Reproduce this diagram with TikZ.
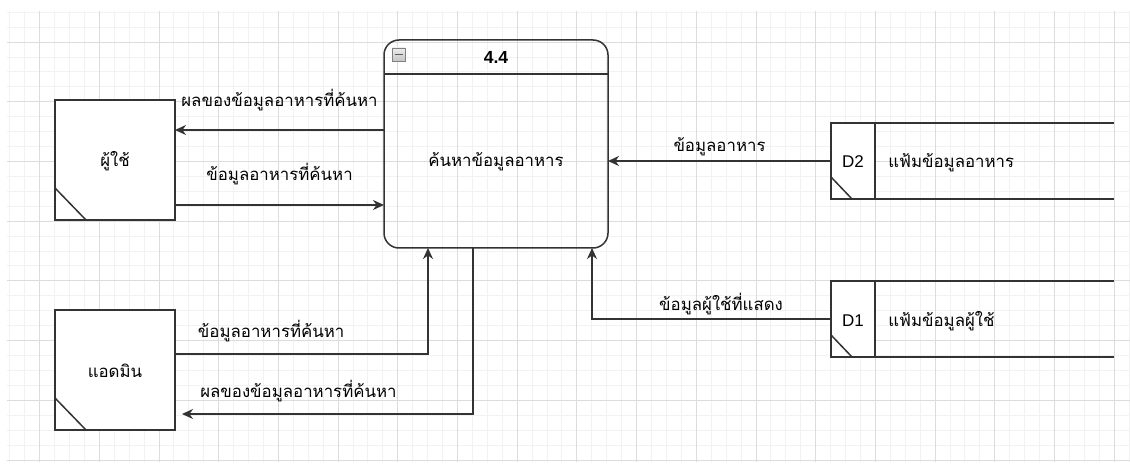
\documentclass[tikz,border=0pt]{standalone}
\usepackage{fontspec}
\setmainfont{Liberation Sans}
\newfontfamily\thaifont[Script=Thai]{Loma}
\usetikzlibrary{arrows.meta,positioning}
\definecolor{gridminor}{HTML}{F2F2F2}
\definecolor{gridmajor}{HTML}{DCDCDC}
\definecolor{boxgray}{HTML}{333333}

\begin{document}
\begin{tikzpicture}
[x=1pt, y=-1pt, >={Stealth[length=11pt,width=10pt,inset=3.5pt]},
every node/.style={font=\thaifont\fontsize{16.8}{20}\selectfont, outer sep=0pt},
entity/.style={draw=boxgray, line width=1.8pt, fill=white, minimum width=120pt,
  minimum height=120pt, text height=14pt, text depth=0pt},
process/.style={draw=boxgray, line width=1.5pt, rounded corners=15pt,
  minimum width=224pt, minimum height=208pt},
storeid/.style={draw=boxgray, line width=1.5pt, fill=white, minimum width=44pt,
  minimum height=76pt, font=\normalfont\fontsize{17}{20}\selectfont,
  text height=14pt, text depth=0pt},
boxline/.style={draw=boxgray, line width=1.5pt},
flow/.style={->, draw=boxgray, line width=1.4pt},
flowlabel/.style={anchor=base, inner sep=0pt}
]
  % background grid
  \fill[white] (0,0) rectangle (1130,465);
  \begin{scope}
    \clip (7,11) rectangle (1130,462);
    \foreach \i in {-2,...,73}
      \draw[gridminor, line width=0.8pt] ({39.5+14.925*\i},11) -- ({39.5+14.925*\i},462);
    \foreach \i in {-2,...,28}
      \draw[gridminor, line width=0.8pt] (7,{42+14.925*\i}) -- (1130,{42+14.925*\i});
    \foreach \i in {0,...,18}
      \draw[gridmajor, line width=0.8pt] ({39.5+59.7*\i},11) -- ({39.5+59.7*\i},462);
    \foreach \i in {-1,...,7}
      \draw[gridmajor, line width=0.8pt] (7,{42+59.7*\i}) -- (1130,{42+59.7*\i});
  \end{scope}

  % external entities
  \node[entity] (user)  at (115,160) {ผู้ใช้};
  \node[entity] (admin) at (115,370) {แอดมิน};
  \draw[boxline] ([yshift=32pt]user.south west) -- ([xshift=31pt]user.south west);
  \draw[boxline] ([yshift=32pt]admin.south west) -- ([xshift=31pt]admin.south west);

  % process 4.4
  \node[process] (proc) at (496,144) {};
  \draw[boxline] ([yshift=-34pt]proc.north west) -- ([yshift=-34pt]proc.north east);
  \node[font=\normalfont\bfseries\fontsize{17.5}{20}\selectfont, anchor=base]
    (ptitle) at ([yshift=-24pt]proc.north) {4.4};
  \node[anchor=base] (pname) at ([yshift=-23pt]proc.center) {ค้นหาข้อมูลอาหาร};
  \node[draw=gray, line width=0.6pt, top color=gray!15, bottom color=gray!45,
    minimum size=13pt, inner sep=0pt, anchor=north west]
    (pminus) at ([xshift=8pt,yshift=-8pt]proc.north west) {};
  \draw[boxgray!80, line width=1.6pt] ([xshift=-4pt]pminus.center) -- ([xshift=4pt]pminus.center);

  % data stores
  \node[storeid] (d2) at (853,161) {D2};
  \node[storeid] (d1) at (853,319) {D1};
  \foreach \s in {d1,d2} {
    \draw[boxline] (\s.north east) -- ++(239,0);
    \draw[boxline] (\s.south east) -- ++(239,0);
    \draw[boxline] ([yshift=22pt]\s.south west) -- ([xshift=21pt]\s.south west);
  }
  \node[anchor=base west] (d2name) at ([xshift=10pt,yshift=-7pt]d2.east) {แฟ้มข้อมูลอาหาร};
  \node[anchor=base west] (d1name) at ([xshift=10pt,yshift=-7pt]d1.east) {แฟ้มข้อมูลผู้ใช้};

  % data flows
  \coordinate (u1) at ([yshift=30pt]user.east);
  \coordinate (u2) at ([yshift=-45pt]user.east);
  \coordinate (a1) at ([yshift=16pt]admin.east);
  \coordinate (a2) at ([xshift=7pt,yshift=-44pt]admin.east);

  \draw[flow] (u1 -| proc.west) -- (u1)
    node[flowlabel, midway, yshift=23pt] (lu1) {ผลของข้อมูลอาหารที่ค้นหา};
  \draw[flow] (u2) -- (u2 -| proc.west)
    node[flowlabel, midway, yshift=24pt] (lu2) {ข้อมูลอาหารที่ค้นหา};
  \draw[flow] (a1) -| ([xshift=-68pt]proc.south)
    node[flowlabel, pos=0.19, yshift=17pt] (la1) {ข้อมูลอาหารที่ค้นหา};
  \draw[flow] ([xshift=-23pt]proc.south) |- (a2)
    node[flowlabel, pos=0.8, yshift=17pt] (la2) {ผลของข้อมูลอาหารที่ค้นหา};
  \draw[flow] (d2.west) -- (d2.west -| proc.east)
    node[flowlabel, midway, yshift=9pt] (ld2) {ข้อมูลอาหาร};
  \draw[flow] (d1.west) -| ([xshift=96pt]proc.south)
    node[flowlabel, pos=0.23, yshift=9pt] (ld1) {ข้อมูลผู้ใช้ที่แสดง};
\end{tikzpicture}
\end{document}
